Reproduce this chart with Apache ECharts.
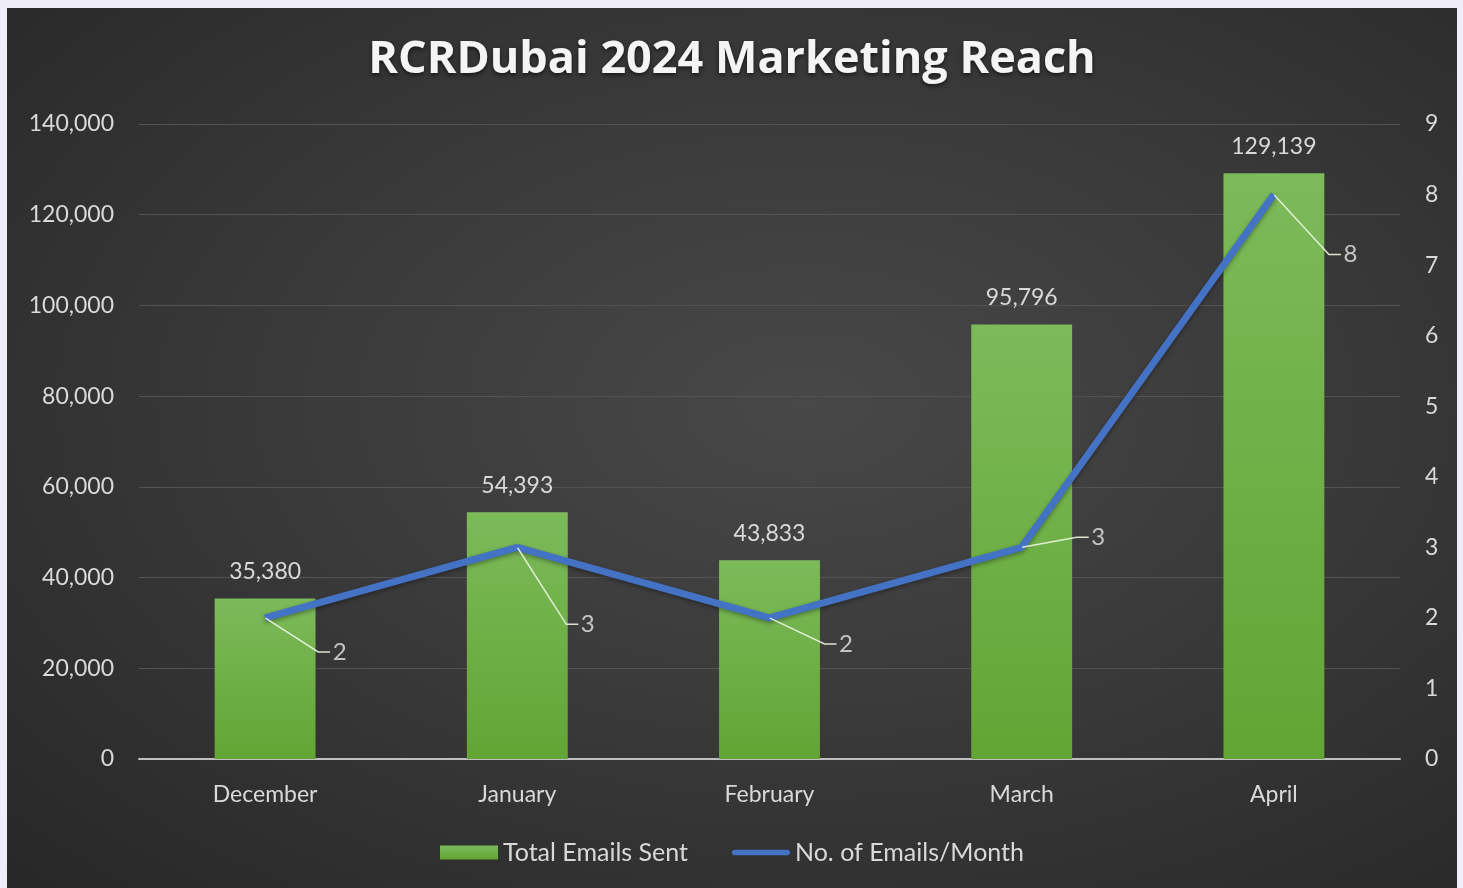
<!DOCTYPE html>
<html>
<head>
<meta charset="utf-8">
<title>RCRDubai 2024 Marketing Reach</title>
<script src="https://cdn.jsdelivr.net/npm/echarts@6/dist/echarts.min.js"></script>
<style>
  html, body { margin: 0; padding: 0; }
  body { width: 1463px; height: 888px; background: #efeef8; position: relative; overflow: hidden; }
  #main {
    position: absolute; left: 7px; top: 8px; width: 1450px; height: 880px;
    background: radial-gradient(ellipse at 55% 45%, #484848 0%, #3a3a3a 45%, #272727 100%);
  }
</style>
</head>
<body>
<div id="main"></div>
<script>
  // data
  var months = ['December', 'January', 'February', 'March', 'April'];
  var totalEmails = [35380, 54393, 43833, 95796, 129139];
  var emailsPerMonth = [2, 3, 2, 3, 8];
  // where each callout label sits relative to its point
  var calloutOffsets = [[92, 34], [88, 77], [94, 26], [94, -10], [94, 60]];

  var textColor = '#d9d9d9';
  var fontFamily = 'Lato, "Open Sans", sans-serif';

  var chart = echarts.init(document.getElementById('main'));
  chart.setOption({
    backgroundColor: 'transparent',
    textStyle: { fontFamily: fontFamily },
    title: {
      text: 'RCRDubai 2024 Marketing Reach',
      left: 'center',
      top: 25,
      textStyle: {
        color: '#f4f4f4',
        fontSize: 45,
        fontWeight: 'bold',
        fontFamily: '"Open Sans", sans-serif',
        textShadowColor: 'rgba(0,0,0,0.6)',
        textShadowBlur: 4,
        textShadowOffsetY: 2
      }
    },
    legend: {
      bottom: 18,
      left: 'center',
      itemGap: 44,
      itemWidth: 58,
      itemHeight: 14,
      textStyle: { color: textColor, fontSize: 25, fontFamily: fontFamily },
      data: [
        { name: 'Total Emails Sent', icon: 'rect' },
        { name: 'No. of Emails/Month', icon: 'path://M3,0 L61,0 A3,3 0 0 1 61,6 L3,6 A3,3 0 0 1 3,0 Z' }
      ]
    },
    grid: { left: 132, right: 57, top: 116, bottom: 129 },
    xAxis: {
      type: 'category',
      data: months,
      axisTick: { show: false },
      axisLine: { lineStyle: { color: '#bfbfbf', width: 2 } },
      axisLabel: { color: textColor, fontSize: 23, margin: 24 }
    },
    yAxis: [
      {
        type: 'value',
        min: 0, max: 140000, interval: 20000,
        axisLabel: {
          color: textColor, fontSize: 23, margin: 25,
          formatter: function (v) { return v.toLocaleString('en-US'); }
        },
        splitLine: { lineStyle: { color: '#535353', width: 1 } }
      },
      {
        type: 'value',
        min: 0, max: 9, interval: 1,
        axisLabel: { color: textColor, fontSize: 23, margin: 25 },
        splitLine: { show: false }
      }
    ],
    series: [
      {
        name: 'Total Emails Sent',
        type: 'bar',
        data: totalEmails,
        barWidth: '40%',
        itemStyle: {
          color: new echarts.graphic.LinearGradient(0, 0, 0, 1, [
            { offset: 0, color: '#7cba5a' },
            { offset: 1, color: '#62a534' }
          ])
        },
        label: {
          show: true,
          position: 'top',
          distance: 15,
          color: textColor,
          fontSize: 23,
          formatter: function (p) { return p.value.toLocaleString('en-US'); }
        }
      },
      {
        name: 'No. of Emails/Month',
        type: 'line',
        yAxisIndex: 1,
        data: emailsPerMonth,
        symbol: 'none',
        z: 5,
        lineStyle: {
          color: '#4472c4', width: 7,
          shadowColor: 'rgba(0,0,0,0.35)', shadowBlur: 4, shadowOffsetY: 2
        },
        itemStyle: { color: '#4472c4' }
      },
      {
        // callout labels for the line values
        name: 'callouts',
        type: 'scatter',
        yAxisIndex: 1,
        data: emailsPerMonth,
        symbol: 'circle',
        symbolSize: 1,
        z: 6,
        silent: true,
        itemStyle: { color: 'rgba(0,0,0,0)' },
        label: {
          show: true,
          position: 'inside',
          // empty spacers keep the leader line entering from the left
          formatter: function (p) { return '{g|}{v|' + p.value + '}{s|}'; },
          rich: {
            g: { width: 5 },
            v: { color: '#e6e6e6', fontSize: 24, fontFamily: fontFamily },
            s: { width: 40 }
          }
        },
        labelLine: {
          show: true,
          length2: 12,
          lineStyle: { color: 'rgba(236,245,226,0.9)', width: 1.5 }
        },
        labelLayout: function (params) {
          var o = calloutOffsets[params.dataIndex];
          return { dx: o[0], dy: o[1] };
        }
      }
    ]
  });
</script>
</body>
</html>
